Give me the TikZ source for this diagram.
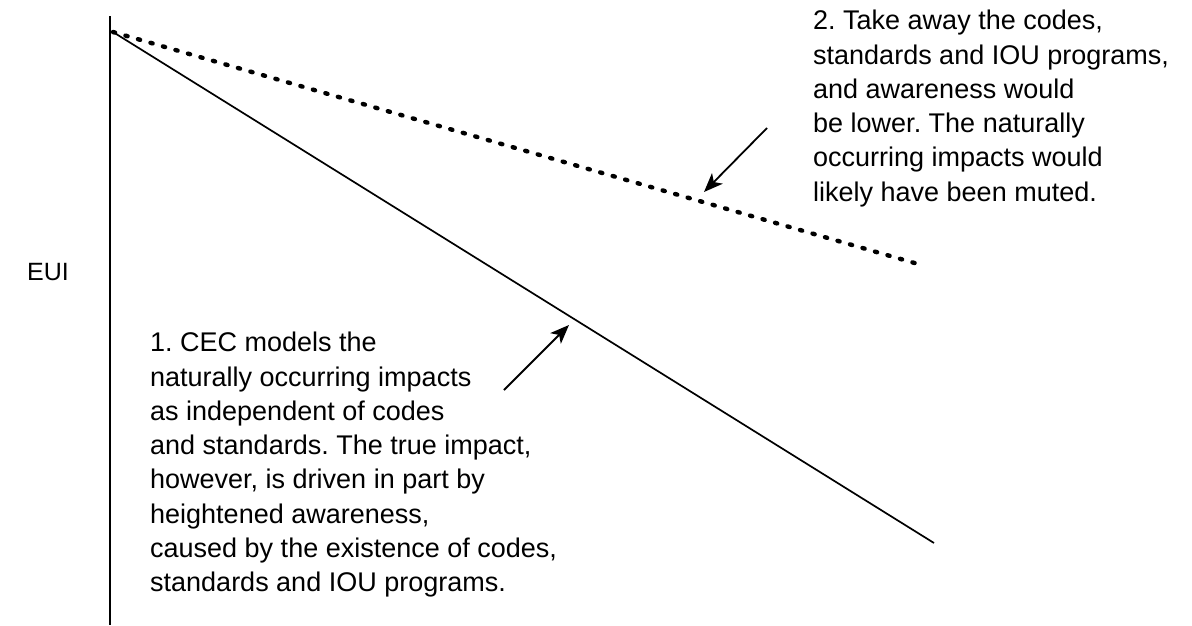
\documentclass[tikz,border=0pt]{standalone}
\usepackage{fontspec}
\setmainfont{Liberation Sans}
\frenchspacing
\usetikzlibrary{arrows.meta}
\tikzset{
  lbl/.style={inner sep=0pt, align=left, anchor=north west, font=\fontsize{27}{34.3}\selectfont},
  axisline/.style={line width=1.9pt},
  trend/.style={line width=1.7pt},
  dotline/.style={line width=4.4pt, line cap=round, dash pattern=on 2.2pt off 10.8pt},
  pointer/.style={line width=1.8pt, -{Stealth[length=19pt,width=15pt,inset=5pt]}}
}
\begin{document}
\begin{tikzpicture}[x=1pt,y=-1pt]
\useasboundingbox (0,0) rectangle (1192,625);
\coordinate (axtop) at (110,16);
\coordinate (axbot) at (110,625);
\coordinate (o) at (113,32);
\coordinate (solidend) at (934,543);
\coordinate (dotend) at (918,264);
\coordinate (a2tail) at (767,128);
\coordinate (a2tip) at (704,192);
\coordinate (a1tail) at (504,390);
\coordinate (a1tip) at (569,325);
\draw[axisline] (axtop) -- (axbot);
\draw[trend] (o) -- (solidend);
\draw[dotline] (o) -- (dotend);
\draw[pointer] (a2tail) -- (a2tip);
\draw[pointer] (a1tail) -- (a1tip);
\node[lbl, anchor=west, font=\fontsize{25}{30}\selectfont] (eui) at (27,272) {EUI};
\node[lbl] (note2) at (813,10) {2. Take away the codes,\\standards and IOU programs,\\and awareness would\\be lower. The naturally\\occurring impacts would\\likely have been muted.};
\node[lbl] (note1) at (150,332) {1. CEC models the\\naturally occurring impacts\\as independent of codes\\and standards. The true impact,\\however, is driven in part by\\heightened awareness,\\caused by the existence of codes,\\standards and IOU programs.};
\end{tikzpicture}
\end{document}
